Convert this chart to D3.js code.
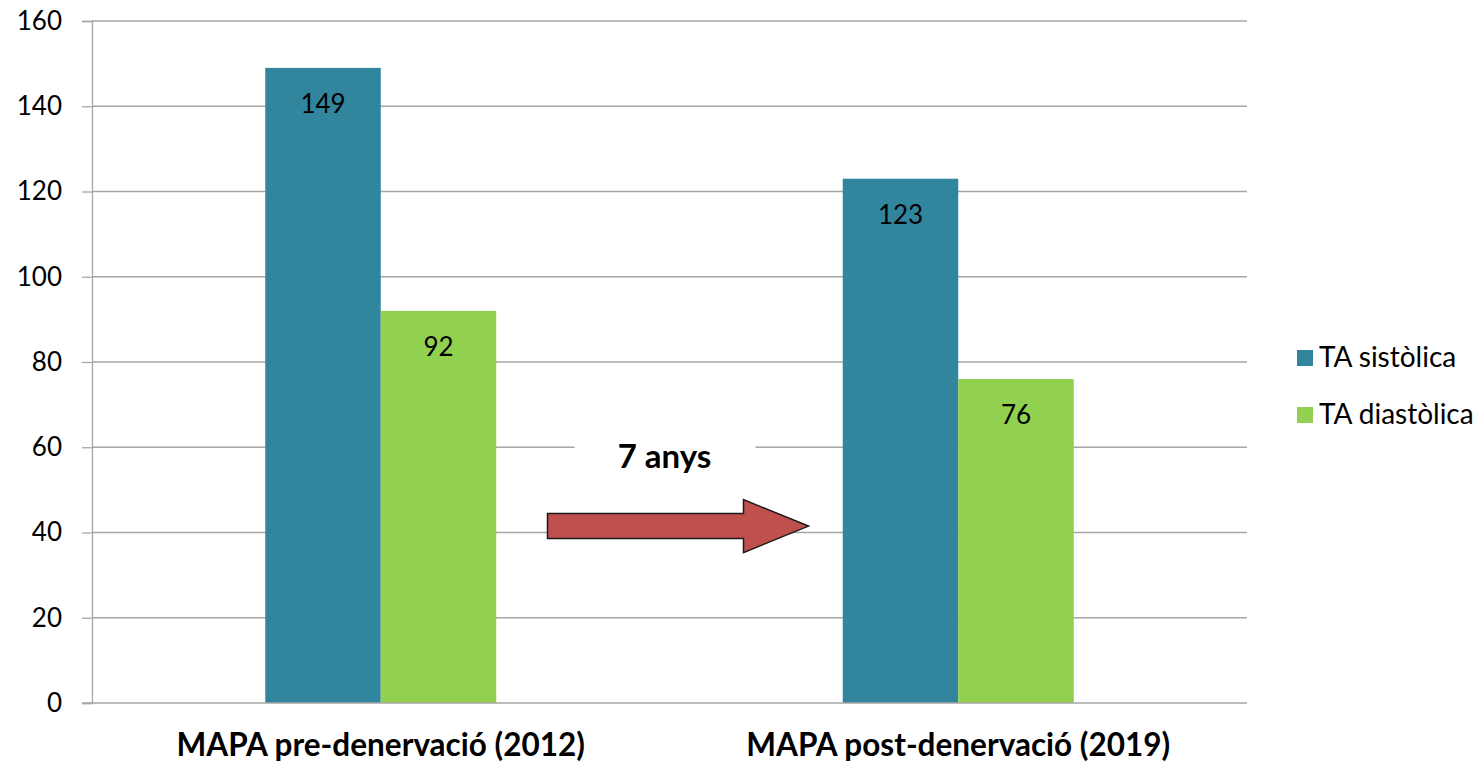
<!DOCTYPE html>
<html>
<head>
<meta charset="utf-8">
<script src="https://cdn.jsdelivr.net/npm/d3@7"></script>
<style>
    body { margin: 0; background: #fff; }
    svg { display: block; }
    text { font-family: Lato, "Open Sans", sans-serif; fill: #000; }
</style>
</head>
<body>
<div id="chart"></div>
<script>
// Chart data
var categories = ['MAPA pre-denervació (2012)', 'MAPA post-denervació (2019)'];
var seriesNames = ['TA sistòlica', 'TA diastòlica'];
var sistolica = [149, 123];
var diastolica = [92, 76];
var yTicks = [0, 20, 40, 60, 80, 100, 120, 140, 160];
var seriesColors = ['#31859c', '#92d050'];

// Size of the page and margins of the plot area
var fullWidth = 1483,
    fullHeight = 766,
    margin = { top: 21, right: 236, bottom: 63, left: 92 },
    width = fullWidth - margin.left - margin.right,
    height = fullHeight - margin.top - margin.bottom;

var svg = d3.select('#chart')
    .append('svg')
    .attr('width', fullWidth)
    .attr('height', fullHeight);

var chart = svg.append('g')
    .attr('transform', 'translate(' + margin.left + ',' + margin.top + ')');

// Scales
var xScale = d3.scaleBand()
    .domain(categories)
    .range([0, width]);

var xInner = d3.scaleBand()
    .domain(seriesNames)
    .range([0, xScale.bandwidth()])
    .paddingOuter(1.5);

var yScale = d3.scaleLinear()
    .domain([0, 160])
    .range([height, 0]);

// Gridlines
chart.append('g')
    .selectAll('line')
    .data(yTicks.filter(function(d) { return d > 0; }))
    .enter()
    .append('line')
    .attr('x1', 0)
    .attr('x2', width)
    .attr('y1', function(d) { return yScale(d); })
    .attr('y2', function(d) { return yScale(d); })
    .attr('stroke', '#a6a6a6')
    .attr('stroke-width', 1.3);

// Y axis
var yAxis = chart.append('g')
    .call(d3.axisLeft(yScale).tickValues(yTicks).tickSize(10).tickPadding(20));
yAxis.select('.domain').attr('stroke', '#a6a6a6').attr('stroke-width', 1.3);
yAxis.selectAll('.tick line').attr('stroke', '#a6a6a6').attr('stroke-width', 1.3);
yAxis.selectAll('.tick text')
    .attr('font-size', '26px')
    .attr('font-family', 'Lato, "Open Sans", sans-serif')
    .attr('fill', '#000');

// Bars, one group per category
var rows = categories.map(function(c, i) {
    return { category: c, values: [sistolica[i], diastolica[i]] };
});

var groups = chart.selectAll('g.bars')
    .data(rows)
    .enter()
    .append('g')
    .classed('bars', true)
    .attr('transform', function(d) { return 'translate(' + xScale(d.category) + ',0)'; });

groups.selectAll('rect')
    .data(function(d) { return d.values.map(function(v, j) { return { name: seriesNames[j], value: v, idx: j }; }); })
    .enter()
    .append('rect')
    .attr('x', function(d) { return xInner(d.name); })
    .attr('width', xInner.bandwidth())
    .attr('y', function(d) { return yScale(d.value); })
    .attr('height', function(d) { return height - yScale(d.value); })
    .attr('fill', function(d) { return seriesColors[d.idx]; });

// Value labels inside the bars
groups.selectAll('text.val')
    .data(function(d) { return d.values.map(function(v, j) { return { name: seriesNames[j], value: v }; }); })
    .enter()
    .append('text')
    .classed('val', true)
    .attr('x', function(d) { return xInner(d.name) + xInner.bandwidth() / 2; })
    .attr('y', function(d) { return yScale(d.value) + 45; })
    .attr('text-anchor', 'middle')
    .attr('font-size', '26px')
    .text(function(d) { return d.value; });

// Bottom axis line drawn over the bars
chart.append('line')
    .attr('x1', -10)
    .attr('x2', width)
    .attr('y1', height)
    .attr('y2', height)
    .attr('stroke', '#a6a6a6')
    .attr('stroke-width', 1.3);

// Category labels
chart.selectAll('text.cat')
    .data(categories)
    .enter()
    .append('text')
    .classed('cat', true)
    .attr('x', function(d) { return xScale(d) + xScale.bandwidth() / 2; })
    .attr('y', height + 53)
    .attr('text-anchor', 'middle')
    .attr('font-size', '31.5px')
    .attr('font-weight', 'bold')
    .text(function(d) { return d; });

// Annotation: "7 anys" with arrow between the two groups
var midX = xScale.bandwidth(),
    arrowLeft = midX - 122,
    arrowRight = midX + 139,
    headStart = midX + 74,
    shaftY = yScale(41.5),
    shaftHalf = 12.5,
    headHalf = 26.5;

chart.append('rect')
    .attr('x', midX - 95)
    .attr('y', yScale(60) - 3)
    .attr('width', 181)
    .attr('height', 6)
    .attr('fill', '#fff');

chart.append('text')
    .attr('x', midX - 5)
    .attr('y', yScale(60) + 21)
    .attr('text-anchor', 'middle')
    .attr('font-size', '33px')
    .attr('font-weight', 'bold')
    .text('7 anys');

var arrowPts = [
    [arrowLeft, shaftY - shaftHalf],
    [headStart, shaftY - shaftHalf],
    [headStart, shaftY - headHalf],
    [arrowRight, shaftY],
    [headStart, shaftY + headHalf],
    [headStart, shaftY + shaftHalf],
    [arrowLeft, shaftY + shaftHalf]
];
chart.append('path')
    .attr('d', d3.line()(arrowPts) + 'Z')
    .attr('fill', '#c0504d')
    .attr('stroke', '#1a1a1a')
    .attr('stroke-width', 1.5)
    .attr('stroke-linejoin', 'miter');

// Legend
var legend = svg.append('g')
    .attr('transform', 'translate(1297,' + 350 + ')');

var legendItems = legend.selectAll('g')
    .data(seriesNames)
    .enter()
    .append('g')
    .attr('transform', function(d, i) { return 'translate(0,' + (i * 57) + ')'; });

legendItems.append('rect')
    .attr('width', 16)
    .attr('height', 16)
    .attr('fill', function(d, i) { return seriesColors[i]; });

legendItems.append('text')
    .attr('x', 22)
    .attr('y', 17)
    .attr('font-size', '28px')
    .text(function(d) { return d; });
</script>
</body>
</html>
